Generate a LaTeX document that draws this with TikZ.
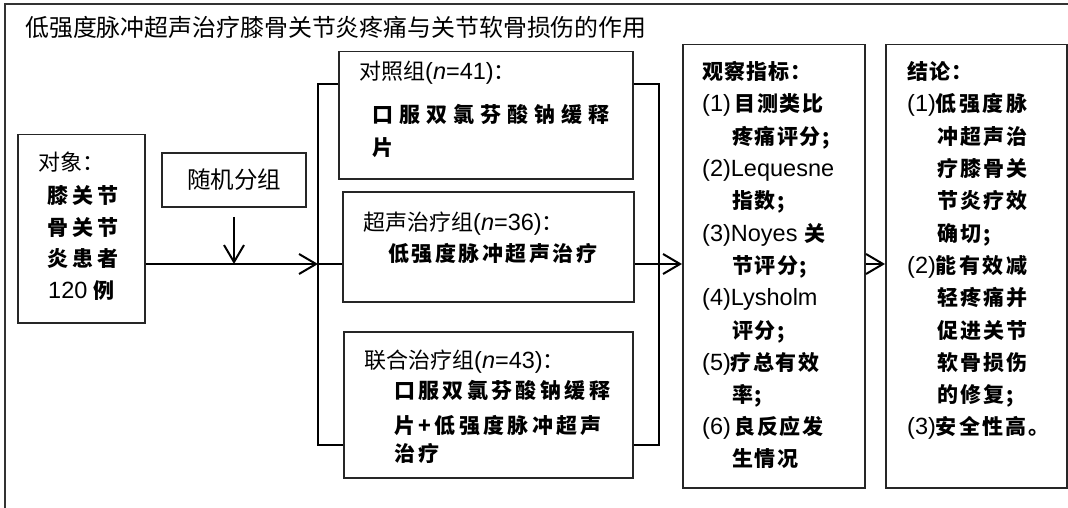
\documentclass[tikz,border=0pt]{standalone}
\usepackage{fontspec}
\setmainfont{Liberation Sans}
\newfontfamily\cjk{Noto Sans CJK SC}
\usetikzlibrary{arrows.meta}
\newcommand\fs[1]{\fontsize{#1}{#1}\selectfont}
\newcommand\kt[2]{{\fontsize{21}{21}\selectfont\cjk\bfseries\addfontfeature{LetterSpace=#1}#2}}
\newcommand\rg[1]{{\cjk #1}}
\newcommand\rs[1]{{\fontsize{22}{22}\selectfont\cjk #1}}
\tikzset{
  box/.style={draw=black!85, line width=1.5pt, inner sep=0pt, anchor=north west},
  conn/.style={line width=2pt},
  arr/.style={conn, -{Straight Barb[length=17pt,width=20pt]}},
  tx/.style={anchor=base west, inner sep=0pt, font=\fs{23.5}},
  kx/.style={anchor=base west, inner sep=0pt, font=\fs{21}},
}
\begin{document}
\begin{tikzpicture}[x=1pt,y=-1pt]
\useasboundingbox (0,0) rectangle (1068,508);
\fill[white] (0,0) rectangle (1068,508);
% outer frame
\draw[line width=2pt, black!80] (1068,4) -- (5,4) -- (5,508);
\node[anchor=base west, inner sep=0pt, font=\fs{23.9}] (title) at (25,36.5) {\rg{低强度脉冲超声治疗膝骨关节炎疼痛与关节软骨损伤的作用}};

% boxes
\node[box, minimum width=127, minimum height=188] (obj) at (17,134) {};
\node[box, anchor=center, minimum width=144, minimum height=54, font=\fs{23.5}] (rnd) at (234,180) {\rg{随机分组}};
\node[box, minimum width=294, minimum height=127] (b1) at (338,51) {};
\node[box, line width=2.3pt, minimum width=291, minimum height=110] (b2) at (342,191) {};
\node[box, minimum width=289, minimum height=146] (b3) at (343,331) {};
\node[box, minimum width=182, minimum height=443] (b4) at (682,44) {};
\node[box, minimum width=181, minimum height=443] (b5) at (885,44) {};

% object text
\node[tx] (o1) at (38,171) {\rs{对象：}};
\node[kx] (o2) at (47,203) {\kt{19}{膝关节}};
\node[kx] (o3) at (47,235) {\kt{19}{骨关节}};
\node[kx] (o4) at (47,266) {\kt{19}{炎患者}};
\node[tx] (o5) at (48,298) {120 \kt{19}{例}};

% box 1
\node[tx] (b1a) at (359,80) {\rs{对照组}(\textit{n}=41)\rs{：}};
\node[kx] (b1b) at (372,123) {\kt{29}{口服双氯芬酸钠缓释}};
\node[kx] (b1c) at (372,155) {\kt{29}{片}};

% box 2
\node[tx] (b2a) at (363,230) {\rs{超声治疗组}(\textit{n}=36)\rs{：}};
\node[kx] (b2b) at (388,261) {\kt{12}{低强度脉冲超声治疗}};

% box 3
\node[tx] (b3a) at (364,368) {\rs{联合治疗组}(\textit{n}=43)\rs{：}};
\node[kx] (b3b) at (394,398) {\kt{16}{口服双氯芬酸钠缓释}};
\node[kx] (b3c) at (394,433) {\kt{16}{片+低强度脉冲超声}};
\node[kx] (b3d) at (394,461) {\kt{16}{治疗}};

% box 4
\node[kx] (b4h) at (702,80) {\kt{5}{观察指标：}};
\node[tx] (b4l1) at (702,112) {(1)\,\kt{7}{目测类比}};
\node[kx] (b4l2) at (732,144.4) {\kt{7}{疼痛评分;}};
\node[tx] (b4l3) at (702,176.6) {(2)Lequesne};
\node[kx] (b4l4) at (732,208.8) {\kt{7}{指数;}};
\node[tx] (b4l5) at (702,241) {(3)Noyes \kt{7}{关}};
\node[kx] (b4l6) at (732,273) {\kt{7}{节评分;}};
\node[tx] (b4l7) at (702,305) {(4)Lysholm};
\node[kx] (b4l8) at (732,338) {\kt{7}{评分;}};
\node[tx] (b4l9) at (702,370) {(5)\kt{7}{疗总有效}};
\node[kx] (b4l10) at (732,402) {\kt{7}{率;}};
\node[tx] (b4l11) at (702,434) {(6)\,\kt{7}{良反应发}};
\node[kx] (b4l12) at (732,466) {\kt{7}{生情况}};

% box 5
\node[kx] (b5h) at (907,80) {\kt{5}{结论：}};
\node[tx] (b5l1) at (907,112) {(1)\kt{12}{低强度脉}};
\node[kx] (b5l2) at (937,144.4) {\kt{10}{冲超声治}};
\node[kx] (b5l3) at (937,176.6) {\kt{10}{疗膝骨关}};
\node[kx] (b5l4) at (937,208.8) {\kt{10}{节炎疗效}};
\node[kx] (b5l5) at (937,241) {\kt{10}{确切;}};
\node[tx] (b5l6) at (907,273) {(2)\kt{12}{能有效减}};
\node[kx] (b5l7) at (937,305) {\kt{10}{轻疼痛并}};
\node[kx] (b5l8) at (937,338) {\kt{10}{促进关节}};
\node[kx] (b5l9) at (937,370) {\kt{10}{软骨损伤}};
\node[kx] (b5l10) at (937,402) {\kt{10}{的修复;}};
\node[tx] (b5l11) at (907,434) {(3)\kt{10}{安全性高。}};

% junction coordinates
\coordinate (jL) at (318,264);
\coordinate (tL) at (318,84);
\coordinate (bL) at (318,445);
\coordinate (tR) at (659,84);
\coordinate (bR) at (659,445);

% connectors
\draw[arr] (obj.east |- jL) -- (jL);
\draw[arr] ([yshift=-9pt]rnd.south) -- (rnd.south |- jL);
\draw[conn] (b1.west |- tL) -- (tL) -- (bL) -- (b3.west |- bL);
\draw[conn] (jL) -- (b2.west |- jL);
\draw[conn] (b1.east |- tR) -- (tR) -- (bR) -- (b3.east |- bR);
\draw[arr] (b2.east |- jL) -- (b4.west |- jL);
\draw[arr] (b4.east |- jL) -- (b5.west |- jL);
\end{tikzpicture}
\end{document}
